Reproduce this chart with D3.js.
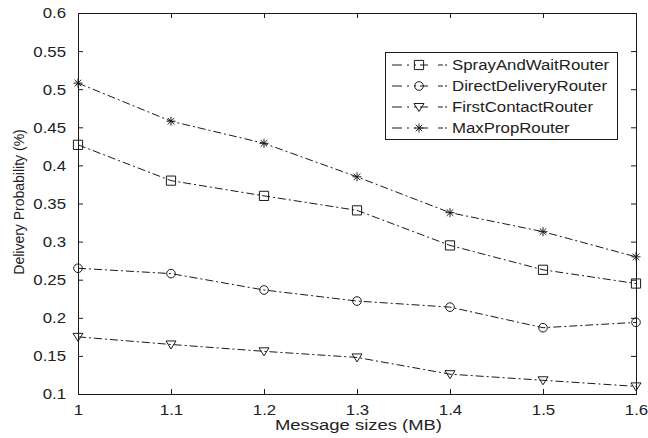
<!DOCTYPE html>
<html>
<head>
<meta charset="utf-8">
<script src="https://cdn.jsdelivr.net/npm/d3@7/dist/d3.min.js"></script>
<style>
  html, body { margin: 0; padding: 0; background: #fff; }
  svg { display: block; }
  text { font-family: "Liberation Sans", Arial, sans-serif; fill: #222; }
</style>
</head>
<body>
<svg id="chart" width="648" height="438"></svg>
<script>
// ---- data ----
const sizes = [1.0, 1.1, 1.2, 1.3, 1.4, 1.5, 1.6];
const sprayAndWait = [0.427, 0.380, 0.360, 0.341, 0.295, 0.263, 0.245];
const directDelivery = [0.265, 0.258, 0.2365, 0.222, 0.214, 0.187, 0.194];
const firstContact = [0.175, 0.165, 0.156, 0.148, 0.126, 0.118, 0.110];
const maxProp = [0.508, 0.458, 0.429, 0.385, 0.338, 0.313, 0.280];
const seriesNames = ["SprayAndWaitRouter", "DirectDeliveryRouter", "FirstContactRouter", "MaxPropRouter"];
const xTicks = [1, 1.1, 1.2, 1.3, 1.4, 1.5, 1.6];
const xTickLabels = ["1", "1.1", "1.2", "1.3", "1.4", "1.5", "1.6"];
const yTicks = [0.1, 0.15, 0.2, 0.25, 0.3, 0.35, 0.4, 0.45, 0.5, 0.55, 0.6];
const yTickLabels = ["0.1", "0.15", "0.2", "0.25", "0.3", "0.35", "0.4", "0.45", "0.5", "0.55", "0.6"];
const xTitle = "Message sizes (MB)";
const yTitle = "Delivery Probability (%)";

const series = [
  { name: seriesNames[0], values: sprayAndWait, marker: "square" },
  { name: seriesNames[1], values: directDelivery, marker: "circle" },
  { name: seriesNames[2], values: firstContact, marker: "triangleDown" },
  { name: seriesNames[3], values: maxProp, marker: "star" }
];

// ---- layout ----
const L = 78, R = 636, T = 13, B = 394;
const svg = d3.select("#chart");
const x = d3.scaleLinear().domain([1, 1.6]).range([L, R]);
const y = d3.scaleLinear().domain([0.1, 0.6]).range([B, T]);
const ink = "#1a1a1a";
const SX = 1.2; // horizontal stretch of glyphs in the reference

// axes (ticks inward on all four sides)
const gx = svg.append("g").attr("transform", `translate(0,${B})`)
  .call(d3.axisBottom(x).tickValues(xTicks).tickFormat((d, i) => xTickLabels[i]).tickSizeInner(-5).tickSizeOuter(0).tickPadding(14));
const gxt = svg.append("g").attr("transform", `translate(0,${T})`)
  .call(d3.axisTop(x).tickValues(xTicks).tickFormat("").tickSizeInner(-5).tickSizeOuter(0));
const gy = svg.append("g").attr("transform", `translate(${L},0)`)
  .call(d3.axisLeft(y).tickValues(yTicks).tickFormat((d, i) => yTickLabels[i]).tickSizeInner(-5).tickSizeOuter(0).tickPadding(12));
const gyr = svg.append("g").attr("transform", `translate(${R},0)`)
  .call(d3.axisRight(y).tickValues(yTicks).tickFormat("").tickSizeInner(-5).tickSizeOuter(0));

[gx, gxt, gy, gyr].forEach(g => {
  g.select(".domain").remove();
  g.selectAll(".tick line").attr("stroke", ink).attr("stroke-width", 1);
});
gx.selectAll(".tick text").attr("font-size", 14).attr("fill", "#222").attr("dy", "0.5em").classed("stretch", true);
gy.selectAll(".tick text").attr("font-size", 14).attr("fill", "#222").attr("dy", "0.35em").classed("stretch", true);
gx.selectAll(".tick text").attr("font-family", null);
gy.selectAll(".tick text").attr("font-family", null);
svg.selectAll("g").attr("font-family", null);

// frame
svg.append("rect").attr("x", L + 0.5).attr("y", T + 0.5).attr("width", R - L).attr("height", B - T)
  .attr("fill", "none").attr("stroke", ink).attr("stroke-width", 1);

// marker path builder
function markerPath(type, cx, cy) {
  const p = d3.path();
  if (type === "square") {
    const h = 4.6; p.rect(cx - h, cy - h, 2 * h, 2 * h);
  } else if (type === "circle") {
    p.moveTo(cx + 4.3, cy); p.arc(cx, cy, 4.3, 0, 2 * Math.PI);
  } else if (type === "triangleDown") {
    p.moveTo(cx - 5, cy - 3.5); p.lineTo(cx + 5, cy - 3.5); p.lineTo(cx, cy + 4.5); p.closePath();
  } else if (type === "star") {
    const r = 4.5, d = 3.3;
    p.moveTo(cx - r, cy); p.lineTo(cx + r, cy);
    p.moveTo(cx, cy - r); p.lineTo(cx, cy + r);
    p.moveTo(cx - d, cy - d); p.lineTo(cx + d, cy + d);
    p.moveTo(cx - d, cy + d); p.lineTo(cx + d, cy - d);
  }
  return p.toString();
}

const line = d3.line().x((d, i) => x(sizes[i])).y(d => y(d));
const dash = "8,3,2,3";

series.forEach(s => {
  svg.append("path").datum(s.values).attr("d", line)
    .attr("fill", "none").attr("stroke", ink).attr("stroke-width", 1).attr("stroke-dasharray", dash);
  svg.append("g").selectAll("path").data(s.values).join("path")
    .attr("d", (d, i) => markerPath(s.marker, x(sizes[i]), y(d)))
    .attr("fill", "none").attr("stroke", ink).attr("stroke-width", 1);
});

// legend
const lg = svg.append("g");
lg.append("rect").attr("x", 385.5).attr("y", 52.5).attr("width", 232).attr("height", 87)
  .attr("fill", "#fff").attr("stroke", ink).attr("stroke-width", 1);
series.forEach((s, i) => {
  const cy = 65 + i * 21;
  lg.append("line").attr("x1", 392).attr("x2", 447).attr("y1", cy).attr("y2", cy)
    .attr("stroke", ink).attr("stroke-width", 1).attr("stroke-dasharray", "10,5,2,5,2,4,8");
  lg.append("path").attr("d", markerPath(s.marker, 419, cy))
    .attr("fill", "none").attr("stroke", ink).attr("stroke-width", 1);
  lg.append("text").attr("x", 452).attr("y", cy + 5).attr("font-size", 14)
    .classed("stretch", true).text(s.name);
});

// axis titles
svg.append("text").attr("x", 358.5).attr("y", 430).attr("text-anchor", "middle")
  .attr("font-size", 14).attr("data-len", 167).text(xTitle);
svg.append("text").attr("transform", "translate(24,202) rotate(-90)").attr("text-anchor", "middle")
  .attr("font-size", 14).text(yTitle);

// horizontal stretch to match reference glyph widths
svg.selectAll("text.stretch").each(function () {
  const w = this.getComputedTextLength();
  this.setAttribute("textLength", w * SX);
  this.setAttribute("lengthAdjust", "spacingAndGlyphs");
});
svg.selectAll("text[data-len]").each(function () {
  this.setAttribute("textLength", this.getAttribute("data-len"));
  this.setAttribute("lengthAdjust", "spacingAndGlyphs");
});
</script>
</body>
</html>
